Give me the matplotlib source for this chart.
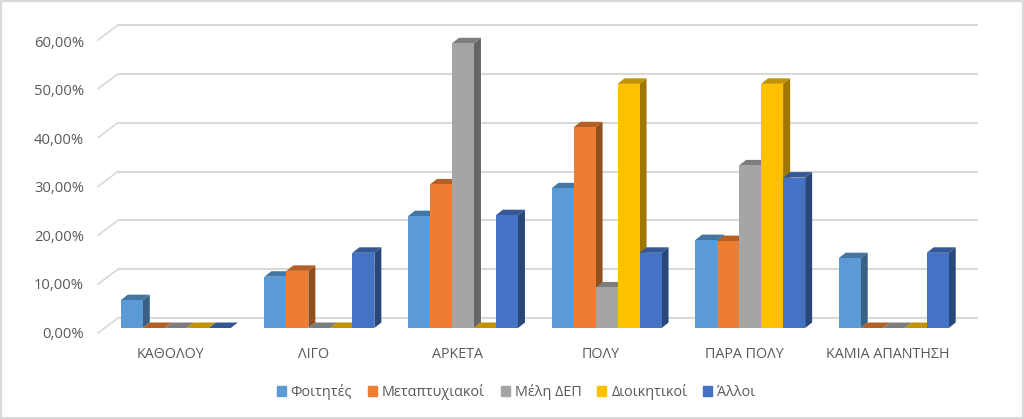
# %%
# 3D style clustered bars, drawn by hand since matplotlib has no flat 3D bar chart
import matplotlib
matplotlib.use('Agg')
import matplotlib.pyplot as plt
import matplotlib.colors as mcolors
from matplotlib.patches import Rectangle
from matplotlib.transforms import ScaledTranslation

plt.rcParams['font.family'] = ['Open Sans', 'DejaVu Sans']

# %%
# the data
categories = ['ΚΑΘΟΛΟΥ', 'ΛΙΓΟ', 'ΑΡΚΕΤΑ', 'ΠΟΛΥ', 'ΠΑΡΑ ΠΟΛΥ', 'ΚΑΜΙΑ ΑΠΑΝΤΗΣΗ']
series_names = ['Φοιτητές', 'Μεταπτυχιακοί', 'Μέλη ΔΕΠ', 'Διοικητικοί', 'Άλλοι']
foitites = [5.7, 10.5, 22.9, 28.6, 18.0, 14.3]
metaptyxiakoi = [0, 11.7, 29.4, 41.1, 17.8, 0]
meli_dep = [0, 0, 58.3, 8.3, 33.3, 0]
dioikitikoi = [0, 0, 0, 50.0, 50.0, 0]
alloi = [0, 15.4, 23.1, 15.4, 30.8, 15.4]
all_series = [foitites, metaptyxiakoi, meli_dep, dioikitikoi, alloi]
colors = ['#5B9BD5', '#ED7D31', '#A5A5A5', '#FFC000', '#4472C4']
y_ticks = [0, 10, 20, 30, 40, 50, 60]
y_labels = ['0,00%', '10,00%', '20,00%', '30,00%', '40,00%', '50,00%', '60,00%']

# %%
# sizes in pixels of the original picture
W, H = 1024, 419
LEFT, RIGHT = 104, 965.5
BASE, TOP60 = 328, 35
px_x = 6 / (RIGHT - LEFT)
px_y = 60 / (BASE - TOP60)
bar_w = 22 * px_x
depth_x = 7 * px_x
depth_y = 5.5 * px_y


def darker(color, k):
    r, g, b = mcolors.to_rgb(color)
    return (r * k, g * k, b * k)


fig = plt.figure(figsize=(W / 100, H / 100), dpi=100)
fig.patches.append(Rectangle((0, 0), 1, 1, transform=fig.transFigure, fill=False,
                             edgecolor='#D9D9D9', linewidth=3))
ax = fig.add_axes([LEFT / W, 1 - BASE / H, (RIGHT - LEFT) / W, (BASE - TOP60) / H])
ax.set_xlim(0, 6)
ax.set_ylim(0, 60)
for s in ax.spines.values():
    s.set_visible(False)

# %%
# gridlines on the back wall and the short diagonals on the side wall
for t in y_ticks:
    back_y = t + 10 * px_y
    ax.plot([14 * px_x, 874 * px_x], [back_y, back_y], color='#D9D9D9', lw=1.5,
            clip_on=False, zorder=1, solid_capstyle='butt')
    ax.plot([-6 * px_x, 14 * px_x], [t - 5 * px_y, back_y], color='#D9D9D9', lw=1.2,
            clip_on=False, zorder=1)

# %%
# bars, left to right so the next bar hides the side of the one before
z = 2
for i, values in enumerate(all_series):
    c = colors[i]
    pos = [g + 0.5 + (i - 2) * bar_w for g in range(len(categories))]
    for x, v in zip(pos, values):
        x0 = x - bar_w / 2
        x1 = x + bar_w / 2
        # side face
        if v > 0:
            ax.fill([x1, x1 + depth_x, x1 + depth_x, x1], [0, depth_y, v + depth_y, v],
                    color=darker(c, 0.62), lw=0, clip_on=False, zorder=z)
        # top face
        ax.fill([x0, x1, x1 + depth_x, x0 + depth_x], [v, v, v + depth_y, v + depth_y],
                color=darker(c, 0.76), lw=0, clip_on=False, zorder=z)
        # front face
        if v > 0:
            ax.bar(x, v, width=bar_w, color=c, lw=0, zorder=z + 0.5)
        z += 1

# %%
# axis labels
ax.set_xticks([g + 0.46 for g in range(len(categories))])
ax.set_xticklabels(categories, fontsize=10.3, color='#595959')
ax.set_yticks(y_ticks)
ax.set_yticklabels(y_labels, fontsize=10.6, color='#595959')
ax.tick_params(axis='both', length=0)
ax.tick_params(axis='x', pad=13.5)
ax.tick_params(axis='y', pad=14.5)
# the labels sit on the front edge of the side wall, a bit lower than the bar plane
for t, label in zip(y_ticks, ax.get_yticklabels()):
    shift = ScaledTranslation(0, -(4.5 + t * 0.03) / 100, fig.dpi_scale_trans)
    label.set_transform(label.get_transform() + shift)

# %%
handles = [Rectangle((0, 0), 1, 1, color=c) for c in colors]
fig.legend(handles, series_names, ncol=5, loc='center', bbox_to_anchor=(516 / W, 1 - 392 / H),
           frameon=False, fontsize=10.4, labelcolor='#595959', handlelength=0.62, handleheight=0.62,
           handletextpad=0.35, columnspacing=1.1)

plt.savefig('out.png', dpi=100)
